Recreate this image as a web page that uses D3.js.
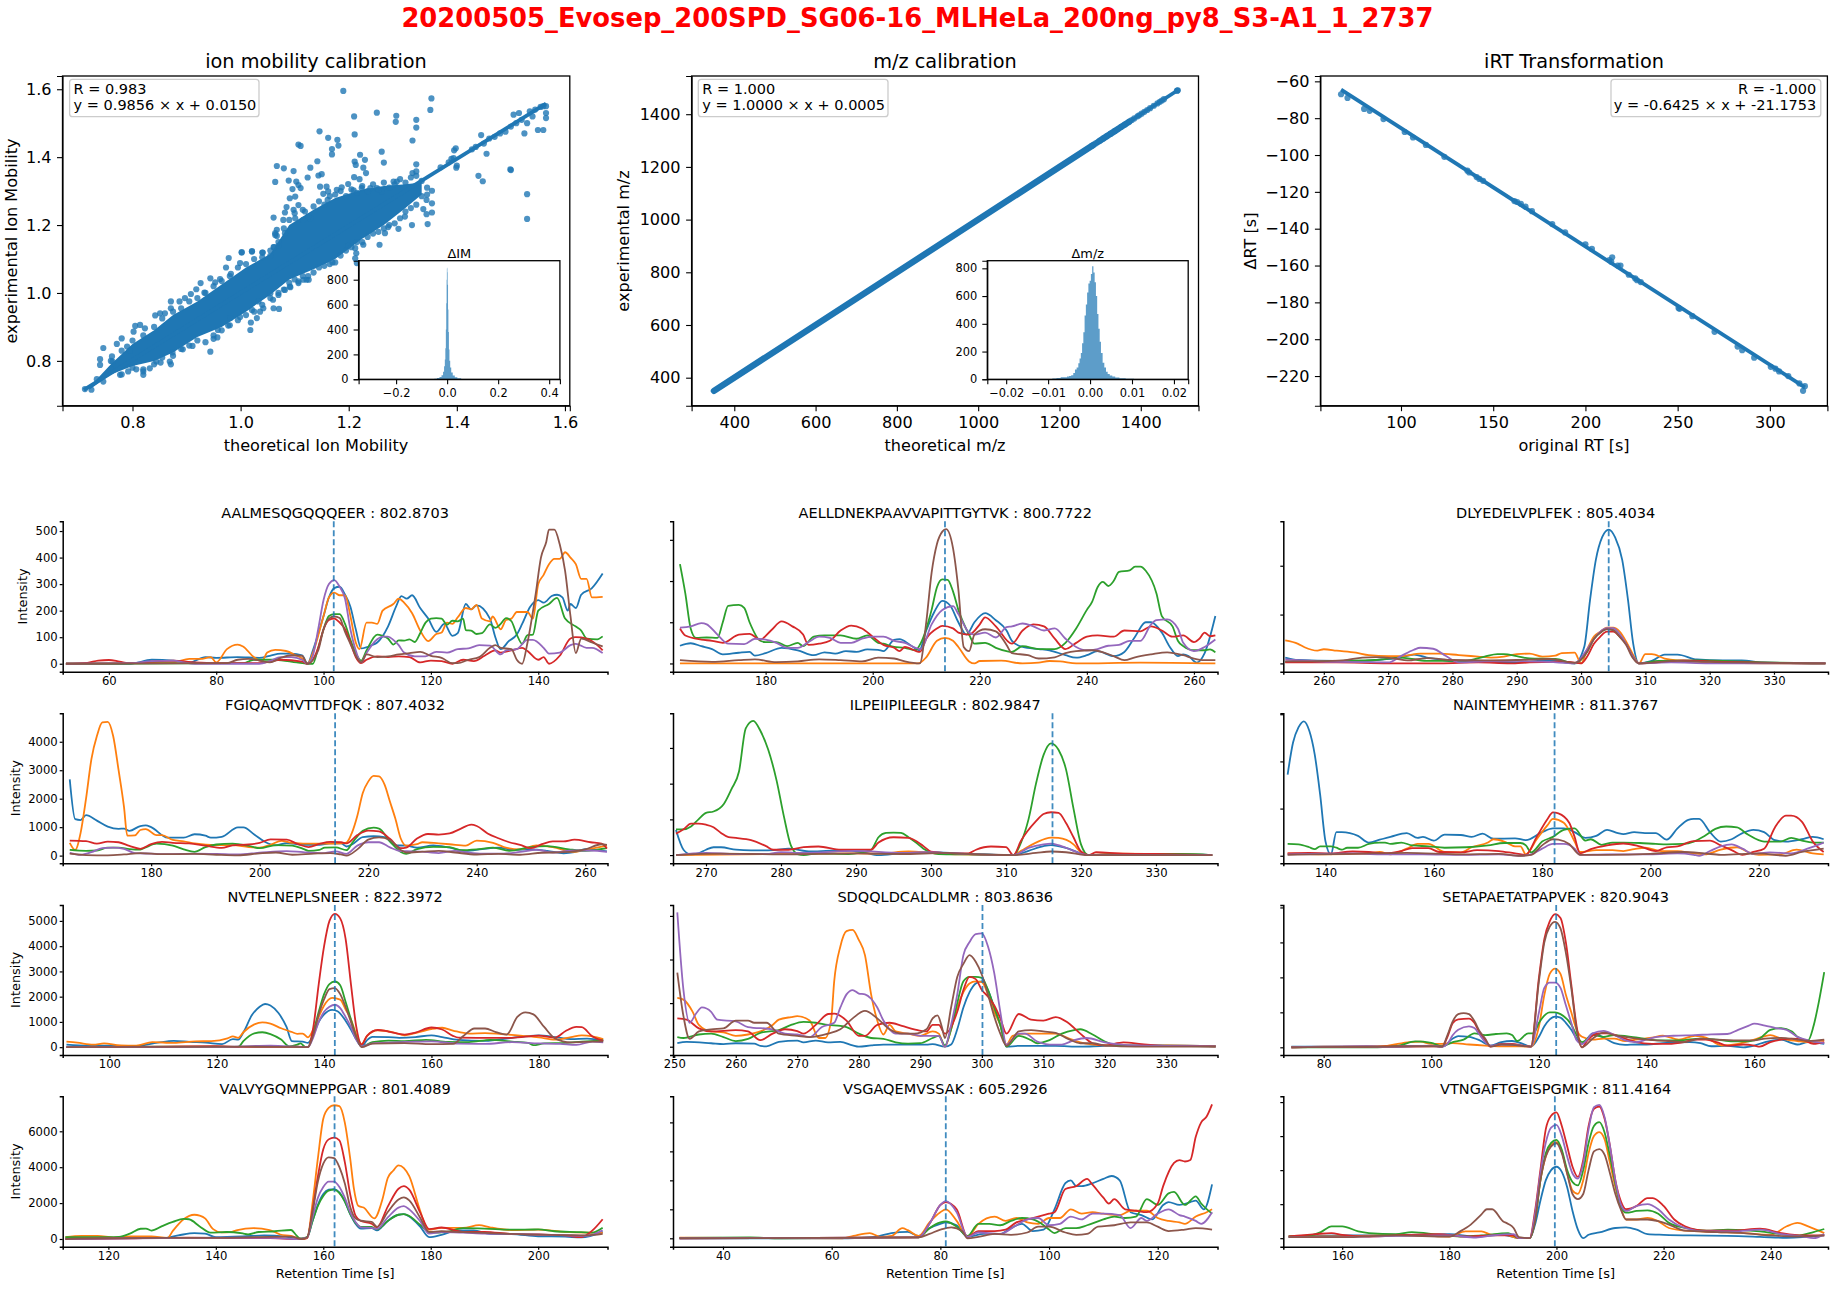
<!DOCTYPE html>
<html>
<head>
<meta charset="utf-8">
<title>Calibration overview</title>
<script src="https://cdn.jsdelivr.net/npm/d3@7"></script>
<style>
html,body{margin:0;background:#fff}
svg{display:block}
text{font-family:"DejaVu Sans",sans-serif;fill:#000}
</style>
</head>
<body>
<svg id="fig" width="1830" height="1290"></svg>
<script>
// ---- run identification -------------------------------------------------
const runName = "20200505_Evosep_200SPD_SG06-16_MLHeLa_200ng_py8_S3-A1_1_2737";
const palette = ["#1f77b4","#ff7f0e","#2ca02c","#d62728","#9467bd","#8c564b"];

// ---- ion mobility calibration: flat x,y lists ---------------------------
const imFit = [0.71, 1.565];
const imCoreX = [0.72,0.76,0.80,0.84,0.875,0.92,0.965,1.01,1.055,1.09,1.135,1.175,1.225,1.265,1.305,1.335];
const imCoreLow = [0.715,0.76,0.785,0.80,0.825,0.87,0.90,0.945,0.995,1.04,1.07,1.10,1.16,1.20,1.25,1.29];
const imCoreHigh = [0.722,0.79,0.85,0.89,0.935,0.975,1.025,1.075,1.115,1.20,1.245,1.28,1.305,1.315,1.32,1.325];
const imCloud = [
 .712,.717,.724,.715,.734,.746,.746,.739,.746,.838,.740,.805,.740,.788,.771,.850,.780,.866,.762,.813,.763,.798,.777,.759,.790,.842,.795,.830,.805,.903,.814,.906,.802,.886,.823,.896,
 .842,.934,.851,.940,.871,.975,.871,.955,.860,.940,.887,.975,.897,.985,.908,.997,.918,1.011,.926,1.029,.933,1.001,.944,1.043,.953,1.031,.962,1.041,.973,1.075,.978,1.103,.982,1.056,
 1.002,1.119,1.021,1.123,1.041,1.119,.999,1.088,1.055,1.109,1.062,1.135,1.070,1.139,1.064,1.176,1.067,1.168,
 .944,.827,.911,.844,.893,.834,.874,.825,.869,.798,.871,.790,.852,.795,.844,.798,.832,.778,.820,.769,.820,.759,.807,.775,.792,.769,.950,.865,.957,.869,.958,.891,.977,.904,
 1.018,.891,1.019,.913,1.030,.926,1.036,.945,1.042,.955,1.060,.980,1.061,.955,1.071,.953,1.082,1.009,1.092,1.017,1.107,1.034,1.116,1.039,1.126,1.039,1.070,.994,1.055,.999,1.033,.975,1.021,.950,.999,.929,.981,.926,
 1.146,1.476,1.162,1.457,1.179,1.451,1.181,1.434,1.169,1.424,1.169,1.408,1.211,1.467,1.107,1.437,1.111,1.433,1.261,1.416,1.221,1.407,1.230,1.392,1.211,1.387,1.213,1.377,1.142,1.388,
 1.067,1.374,1.080,1.367,1.098,1.359,1.129,1.369,1.124,1.340,1.144,1.346,1.150,1.350,1.064,1.327,1.089,1.331,1.103,1.328,1.107,1.318,1.096,1.306,1.111,1.309,1.147,1.313,1.159,1.313,1.162,1.299,1.153,1.292,1.161,1.274,
 1.199,1.321,1.210,1.341,1.220,1.335,1.232,1.353,1.227,1.369,1.265,1.384,1.318,1.449,1.325,1.379,1.318,1.353,1.325,1.358,1.283,1.328,1.289,1.328,1.178,1.304,1.187,1.311,1.209,1.302,1.224,1.309,1.240,1.309,1.252,1.309,1.261,1.299,
 1.091,1.279,1.101,1.284,1.107,1.259,1.119,1.240,1.085,1.253,1.082,1.237,1.079,1.215,1.061,1.222,1.098,1.245,1.101,1.220,1.129,1.220,1.116,1.215,1.067,1.186,1.064,1.171,1.082,1.176,1.061,1.135,1.002,1.120,1.021,1.122,1.040,1.119,
 1.354,1.301,1.354,1.264,1.344,1.274,1.338,1.247,1.354,1.237,1.344,1.232,1.346,1.203,1.317,1.200,1.292,1.189,1.304,1.225,1.273,1.194,1.267,1.176,1.257,1.142,1.227,1.142,1.212,1.132,1.214,1.117,1.212,1.102,1.215,1.088,1.199,1.139,1.170,1.090,1.122,1.039,1.107,1.029,1.091,1.019,
 .76,.80,.76,.775,.78,.83,.78,.76,.80,.86,.80,.78,.82,.875,.82,.775,.84,.90,.84,.79,.855,.925,.855,.81,.875,.945,.875,.815,.89,.955,.89,.835,.905,.975,.905,.845,.92,.985,.92,.86,.935,1.0,.935,.855,.95,1.02,.95,.875,.965,1.035,.965,.89,.98,1.05,.98,.905,.995,1.075,.995,.92,
 1.01,1.085,1.01,.935,1.025,1.10,1.025,.945,1.04,1.105,1.04,.965,1.055,1.125,1.055,.985,1.07,1.15,1.07,1.0,1.08,1.19,1.08,1.01,1.09,1.215,1.09,1.03,1.10,1.235,1.10,1.04,1.115,1.245,1.115,1.05,1.125,1.225,1.125,1.05,1.135,1.255,1.135,1.06,1.145,1.27,1.145,1.075,1.155,1.26,1.155,1.08,
 1.165,1.285,1.165,1.085,1.175,1.29,1.175,1.09,1.185,1.30,1.185,1.11,1.195,1.285,1.195,1.125,1.205,1.305,1.205,1.135,1.215,1.295,1.215,1.15,1.225,1.315,1.225,1.15,1.235,1.30,1.235,1.165,1.245,1.32,1.245,1.175,1.255,1.305,1.255,1.18,1.265,1.325,1.265,1.19,1.275,1.31,1.275,1.20,
 1.285,1.32,1.285,1.205,1.295,1.335,1.295,1.22,1.305,1.325,1.305,1.24,1.315,1.34,1.315,1.25,1.325,1.345,1.325,1.26,1.335,1.33,1.335,1.285,1.345,1.31,1.345,1.29,
 1.19,1.595,1.21,1.52,1.252,1.531,1.287,1.504,1.288,1.522,1.325,1.487,1.325,1.51,1.351,1.539,1.353,1.573,
 1.37,1.37,1.385,1.385,1.39,1.395,1.394,1.397,1.398,1.426,1.399,1.369,1.40,1.375,1.395,1.42,1.428,1.423,1.435,1.43,1.44,1.345,1.448,1.329,1.445,1.465,1.45,1.44,1.455,1.41,1.46,1.455,1.47,1.46,1.48,1.47,
 1.49,1.475,1.499,1.364,1.50,1.362,1.50,1.49,1.505,1.525,1.51,1.50,1.515,1.53,1.52,1.51,1.525,1.47,1.53,1.291,1.53,1.218,1.53,1.50,1.535,1.535,1.54,1.52,1.545,1.54,1.55,1.48,1.555,1.548,1.56,1.55,1.565,1.55,1.565,1.53,1.565,1.515,1.56,1.48];
const imDelta = [-0.075,-0.05,-0.04,-0.03,-0.022,-0.016,-0.012,-0.009,-0.007,-0.005,-0.0035,-0.002,-0.001,0,0.001,0.002,0.0035,0.005,0.007,0.009,0.012,0.016,0.022,0.03,0.04,0.055,0.08];
const imCount = [0,5,10,18,32,60,105,160,250,400,610,800,890,895,860,760,560,380,240,150,95,55,30,16,8,3,0];

// ---- m/z calibration ----------------------------------------------------
const mzFit = [350, 1490];
const mzDenseRuns = [[350,1285],[1295,1320],[1325,1345],[1350,1372]];
const mzTail = [1280,1290,1300,1308,1316,1325,1336,1352,1361,1372,1378,1384,1392,1396,1402,1409,1416,1423,1432,1441,1447,1452,1457,1489,1490,1491];
const mzDelta = [-0.011,-0.009,-0.008,-0.007,-0.0062,-0.0055,-0.005,-0.0045,-0.004,-0.0036,-0.0032,-0.0028,-0.0025,-0.0022,-0.0019,-0.0016,-0.0013,-0.001,-0.0007,-0.0004,-0.0001,0.0002,0.0005,0.0008,0.0011,0.0014,0.0017,0.002,0.0023,0.0026,0.003,0.0034,0.0038,0.0042,0.0047,0.0053,0.006,0.007,0.0085,0.0105];
const mzCount = [0,6,9,14,14,20,24,30,45,70,85,115,150,190,260,340,460,540,625,690,710,760,815,770,700,600,470,365,270,190,120,85,55,38,28,20,13,8,4,0];

// ---- iRT transformation -------------------------------------------------
const irtFit = [67.5, 319];
const irtX = [67.5,71,80,83,90.5,102,106.5,113.5,123.5,136,137,141,142.5,144.5,161.5,163,165,167.5,171,182,189,200,203.5,213,214.5,214,217.5,219,223.5,227,228,230,250.5,251,258,270,282.5,285,291.5,300.5,303,305,310,316,319,318];
const irtY = [-67,-69,-75,-76,-80.5,-87.5,-90.5,-94.5,-101,-108.5,-109.5,-112,-113,-114,-125,-125.5,-126.5,-128,-130.5,-137.5,-142,-148.5,-151,-157,-155.5,-158,-160,-160,-165,-167,-168,-169,-183,-183.5,-187.5,-196,-204,-206,-210,-215,-216,-217.5,-220,-224,-225.5,-228];

// ---- extracted ion chromatograms: flat time,intensity lists -------------
const aalmBlue=[52,0,64,0,68,15,72,12,75,5,78,25,80,22,84,25,88,22,90,30,92,38,94,38,96,32,97,0,98,50,100,180,101,250,102,285,103,290,104,260,105,215,106,130,107,58,109,70,110,80,112,140,113.5,215,114.5,255,115.5,245,116.5,258,118,210,119.5,170,121,120,122.5,150,124,105,125,115,126.5,225,127.5,205,128.5,220,131,170,132,100,133,55,134.5,85,136,110,137,150,138.5,215,140,240,141,230,142.5,255,143.5,260,144.5,250,145.5,200,146,225,147,210,148,260,150,285,152,340];
const aalmOrange=[52,0,72,5,75,18,77,18,79,25,80,5,82,55,84,72,85,65,87,25,88.5,10,89.5,42,91,52,93,48,95,30,96,20,97,0,98,40,100,180,101,250,102,268,103,258,104,258,105,180,106,80,106.7,55,108,155,109,155,110,150,111,200,113,225,114,245,115,230,116.5,190,118,125,119.5,85,121,112,122,118,123,155,124,150,125,175,126.5,210,127.5,205,128.5,222,129.5,170,131,160,131.5,178,133,130,134,165,135,170,136,195,138,195,139,170,140,300,141,335,142,375,143,395,144,395,145,420,146,400,147,375,148,320,149,320,150,250,152,252];
const aalmGreen=[52,0,85,2,87,15,89,15,91,15,95,5,97,0,98,0,99,60,100,130,101,180,102,187,103,187,104,150,105,90,106,40,107,12,108,50,110,110,111,105,112,95,113,72,114,88,115,87,116,92,117,82,118,115,119,155,120,170,121,172,122,170,123,147,124,162,125,160,126,170,126.5,127,127.5,125,128.5,112,129.5,115,131,148,132,135,133,150,134,172,135,160,136,110,137,75,138,108,139,110,140,200,142,225,143.5,248,145,170,147,140,148,125,149,95,151,92,152,103];
const aalmRed=[52,0,56,3,58,12,60,14,62,8,64,2,68,8,72,12,76,5,80,2,88,2,90,8,92,15,96,8,97,0,99,60,100,130,101,165,102,170,103,155,104,130,105,80,106,25,107,2,108,15,110,28,112,25,114,28,116,25,118,5,120,12,122,10,124,0,126,15,128,10,130,30,132,50,133,42,135,50,137,60,138,48,140,15,141,25,142,0,144,30,146,95,147,100,149,95,151,70,152,50];
const aalmPurple=[52,0,64,2,68,10,72,12,74,5,76,0,88,0,90,10,92,25,94,25,96,15,97,0,98,30,99,130,100,240,101,300,102,315,103,290,104,245,105,130,106,50,107,5,108,40,110,92,111,102,112,102,113,90,114,70,115,42,117,28,119,28,121,45,123,42,125,55,127,58,129,70,131,68,133,35,134,50,136,55,138,90,139,90,141,60,142,38,144,42,146,70,147,75,149,60,150,60,152,40];
const aalmBrown=[52,0,82,2,84,15,86,18,88,12,90,5,92,22,94,32,96,30,97,0,99,50,100,130,101,170,102,178,103,172,104,120,105,75,106,30,107,5,108,35,110,25,112,28,114,35,116,40,118,45,120,30,122,22,124,2,125,2,127,15,129,25,131,60,132,70,133,60,135,55,136,15,137,0,138,80,139.5,260,140.5,400,141.5,460,142,505,143,505,144,450,145,350,146,180,147,40,148,95,150,80,152,65];

const aellBlue=[164,43,166,49,168,42,170,35,172,22,175,26,177,28,178,19,180,25,183,38,186,32,189,20,191,27,193,24,195,30,197,28,199,34,201,33,202,30,204,57,205,59,207,45,208.7,32,210,80,211.5,125,213,152,214.5,140,216,100,217.5,70,219,100,221,122,223,105,225,80,226,55,228,40,231,35,233,32,236,20,238,14,240,20,242,30,245,18,247,28,249,65,251,100,252,100,254,75,255.5,40,257,18,258,22,259,18,260.5,2,262,25,264,115];
const aellOrange=[164,0,208.5,0,210,15,212,55,213.5,62,215,55,216,40,218,5,219,0,220,6,224,7,228,0,231,2,233,6,235,5,238,0,250,2,264,0];
const aellGreen=[164,241,165,170,166,85,167,62,169,63,171,62,172,100,173,140,175,142,176,135,177,100,179,55,180,52,182,52,184,42,186,50,187,42,189,65,191,68,194,68,197,60,199,68,201,50,202,48,204,40,206,38,208,32,209,50,211,130,212,185,213,204,214,203,215,175,216,130,218,70,219,48,221,50,223,38,225,30,226,28,228,42,231,35,234,35,236,50,238,85,240,130,241,150,242,185,243,198,244,188,245,200,246,222,248,226,249,235,250,235,251,225,253,170,254,115,256,90,257,55,258,42,260,32,262,32,263,34,264,27];
const aellRed=[164,85,165,68,168,58,170,55,172,50,175,70,177,72,179,58,181,80,183,102,185,90,187,70,188,45,190,48,192,55,194,80,196,92,198,85,200,65,202,45,204,38,205,30,206,40,208.8,28,210,60,212,85,213,91,215,85,216,75,218,70,220,95,221,112,223,90,226,48,228,80,230,95,232,90,234,60,236,35,238,50,240,65,242,68,245,65,247,80,250,78,252,90,254,80,256,65,258,68,260,52,261,60,262,75,263,66,264,68];
const aellPurple=[164,87,166,90,168,98,169,95,171,70,173,48,176,47,178,60,180,58,182,50,184,38,186,38,188,52,190,65,192,62,194,50,196,50,198,60,200,65,202,65,204,55,206,50,208,38,209,35,211,95,213,130,215,139,216,120,218,75,219,70,221,75,223,63,225,88,226,90,228,97,230,90,232,80,234,85,236,60,238,40,240,32,242,35,244,43,246,45,248,55,250,55,252,95,253,105,255,107,257,85,258,50,260,30,262,40,264,58];
const aellBrown=[164,8,170,4,175,8,178,10,182,3,186,5,190,10,194,8,198,5,201,14,204,12,206,5,208.8,0,210,100,211,220,212,290,213,320,213.7,326,215,280,216,180,217,40,218,30,219,70,221,83,223,78,225,45,226,25,229,20,231,12,234,15,236,25,238,30,241,32,245,18,247,8,249,15,252,22,255,27,258,20,260,12,262,8,264,8];

const dlyeBlue=[254,12,256,7,262,5,266,5,269,8,272,12,274,18,276,12,278,8,280,4,285,3,290,2,295,6,299,0,300.5,34,301.4,130,302.3,212,303.3,259,304.3,274,305.3,258,306.4,212,307.3,130,308.1,41,309,0,311,5,313,18,315,18,318,8,322,6,325,6,328,2,338,0];
const dlyeOrange=[254,47,256,40,257,33,259,26,260,29,262,26,265,22,267,17,270,15,272,15,275,20,278,20,281,17,284,14,286,12,288,14,290,19,292,20,294,14,296,16,297,21,299,22,300,0,301,30,302,55,303,65,304,73,305,73,306,65,307,45,308,20,309,0,310,19,311,19,313,10,315,6,320,3,328,0,338,0];
const dlyeGreen=[254,3,262,5,268,7,272,12,276,5,279,5,282,5,285,14,287,19,288,19,290,15,292,10,296,9,299,0,301,25,302,50,303,63,304,70,305,68,306,55,307,40,308,15,309,0,312,5,318,6,328,2,338,0];
const dlyeRed=[254,2,262,2,270,0,278,0,284,2,289,0,292,2,296,3,298,3,300,0,301,15,302,40,303,55,304,65,305,65,306,55,307,40,308,15,309,0,313,3,316,6,320,4,338,0];
const dlyePurple=[254,8,262,3,270,2,272,15,274,28,275,32,277,30,279,15,281,2,285,4,290,5,295,3,299,0,301,30,302,50,303,65,304,72,305,72,306,60,307,40,308,15,309,0,314,2,320,0,338,0];
const dlyeBrown=[254,4,258,4,263,6,266,12,268,13,271,10,273,6,276,11,280,7,285,6,290,7,295,9,299,1,301,25,302,50,303,63,304,70,305,68,306,55,307,38,308,12,309,0,315,5,320,3,338,0];

const fgiqBlue=[165,2680,166,1280,167,1250,168,1420,170,1230,172,1020,174,940,175,950,176,870,178,1040,179,1060,180,1000,183,630,186,630,188,750,190,700,191,630,193,660,196,990,197,990,199,740,201,480,203,360,205,440,208,380,211,380,213,430,215,430,216,320,217,390,219,650,221,680,223,650,225,360,227,350,229,280,232,360,235,280,238,170,241,230,244,280,247,200,250,220,253,170,256,80,258,120,260,230,264,150];
const fgiqOrange=[165,450,166,200,167,800,168,2000,169,3400,170,4200,171,4680,172,4700,173,4200,174,3000,175,1700,175.6,700,177,710,178,900,179,930,181,720,182,720,184,550,186,500,188,430,192,370,195,370,198,300,200,280,202,380,204,520,206,450,210,420,213,420,215,430,216,460,217,800,218,1400,219,2200,220,2600,221,2800,222,2780,223,2500,224,1900,225,1300,226,600,227,350,229,400,230,470,233,430,235,400,238,350,240,530,243,450,245,300,248,220,251,360,254,300,258,130,260,200,264,350];
const fgiqGreen=[165,200,168,170,170,180,172,280,174,280,176,230,178,210,179,290,181,420,184,350,186,220,188,130,190,300,192,390,195,420,198,340,200,260,203,370,206,350,208,240,209,170,211,200,212,280,214,290,216,190,217,430,219,870,221,980,222,950,224,500,226,130,227,60,229,230,232,310,235,300,237,190,240,220,243,280,246,170,250,300,253,330,257,220,260,170,264,260];
const fgiqRed=[165,530,168,510,170,420,172,490,174,470,176,340,178,240,180,400,182,480,184,450,187,430,190,350,193,270,195,360,198,390,200,450,202,570,205,560,207,410,209,300,211,410,213,480,215,470,216,430,218,720,220,880,222,850,224,590,226,260,227,280,229,600,231,760,233,740,235,780,237,940,239,1090,240,1040,242,780,244,610,246,470,248,380,250,260,252,400,254,500,256,500,258,560,261,470,263,420,264,250];
const fgiqPurple=[165,100,167,30,169,120,171,260,173,280,175,240,177,90,180,70,183,50,188,70,192,60,196,40,200,100,205,160,208,120,212,90,214,150,216,60,218,350,220,470,222,470,224,290,226,160,228,150,231,120,233,90,236,170,238,120,241,70,245,70,248,130,251,200,254,110,258,180,261,180,264,130];
const fgiqBrown=[165,70,168,20,172,10,175,40,178,90,182,50,188,60,192,30,196,10,200,80,203,110,206,30,210,70,213,90,215,40,216,0,218,220,220,560,222,640,224,550,226,200,227,110,230,140,233,170,236,110,240,40,244,60,248,30,252,100,256,120,260,220,263,400,264,380];

const ilpeBlue=[266,70,267,15,268,2,269,5,270,15,271,22,272,22,274,15,276,13,279,14,281,18,284,10,288,14,291,8,293,0,296,5,300,8,304,4,311,0,313,12,315,25,316,28,318,20,320,5,321,0,325,3,330,3,337.5,0];
const ilpeOrange=[266,0,280,3,290,5,293,4,297,10,299,8,301,4,304,2,311,0,312,12,314,35,316,49,317,48,319,30,320,8,321,0,325,4,337.5,0];
const ilpeGreen=[266,72,267,72,268,80,269,100,270,118,271,122,272.4,144,273.4,185,274.4,234,275.3,355,276.3,376,277.3,346,278.3,295,279.4,210,280.4,107,281.3,28,282.3,2,283,0,285,5,289,3,292,15,293,50,294,62,295,63,296,62,297,50,298,35,299,18,301,3,305,2,311,0,312,35,313,100,314,200,315,280,316,313,317,295,318,240,319,130,320,30,321,0,325,3,333,3,337.5,0];
const ilpeRed=[266,60,267,72,268,88,269,88,270,85,271,78,272,62,273,50,274,48,276,42,278,25,279,15,281,15,283,22,285,24,288,15,290,15,292,15,293,35,295,50,297,48,299,25,300,10,303,5,305,5,306,15,308,24,310,22,311,0,312,40,314,95,315,115,316,120,317,118,318,90,319,50,320,10,321,0,322,8,325,5,330,3,337.5,0];
const ilpePurple=[266,0,270,6,274,3,278,3,280,8,283,6,290,12,296,6,299,8,302,6,306,2,311,0,313,20,315,30,316,32,317,28,319,12,321,0,337.5,0];
const ilpeBrown=[266,0,272,4,280,2,290,5,296,3,302,6,305,3,311,0,314,6,316,10,318,8,321,0,337.5,0];

const nainBlue=[133,172,134,240,135,272,136,285,137,265,138,215,139,130,140,30,141,3,142,50,143,50,146,42,148,28,150,34,152,40,155,48,157,38,158,40,160,32,162,45,165,44,167,40,169,47,171,36,175,37,177,33,180,50,182,58,184,58,186,50,188,38,190,42,192,55,194,48,195,46,197,50,199,48,201,48,203,34,205,58,207,76,208,78,209,78,211,50,213,30,215,35,217,48,219,55,221,50,223,33,225,30,228,35,230,40,232,35];
const nainOrange=[133,5,140,3,148,5,150,8,152,3,155,15,157,25,159,25,162,8,165,7,167,18,170,28,171,35,173,30,175,20,176,20,177,3,179,35,181,65,182,78,184,70,186,30,187,8,190,12,193,12,195,10,197,14,199,17,202,10,205,10,208,5,210,3,213,13,216,18,218,8,220,2,224,3,227,13,230,5,232,3];
const nainGreen=[133,25,135,24,137,18,138,14,139,20,141,20,142,17,143,13,144,17,146,17,148,25,150,28,151,28,152,25,154,28,156,22,159,20,162,17,166,18,170,22,173,27,176,27,177,22,178,7,180,30,182,40,184,55,186,58,188,32,189,35,191,23,193,28,195,28,198,27,201,25,203,24,206,25,208,30,210,42,212,57,214,62,216,60,218,45,221,30,224,30,226,38,228,32,230,28,232,28];
const nainRed=[133,5,137,6,141,5,145,9,148,8,151,5,154,10,156,16,159,16,161,8,165,7,168,12,172,10,175,5,177,2,179,40,181,78,182,92,183,90,185,70,186,40,187,5,189,14,192,22,195,26,198,20,201,10,203,18,205,20,208,31,211,32,213,22,215,12,217,2,219,8,221,15,223,60,225,85,226,85,228,72,230,30,232,8];
const nainPurple=[133,3,145,5,150,3,158,3,165,2,172,3,176,0,178,3,180,15,182,25,184,25,186,15,187,2,192,3,200,3,205,5,208,2,209,0,211,10,213,20,215,24,217,15,219,4,222,7,226,5,229,15,232,28];
const nainBrown=[133,2,145,4,155,6,165,3,172,4,176,0,178,2,180,22,182,35,183,34,185,25,187,2,192,2,200,4,206,8,210,5,213,2,220,5,225,0,228,8,232,15];

const nvteBlue=[92,100,96,60,100,60,105,50,109,180,112,250,115,210,118,180,121,120,123,320,124,300,125,600,126.5,1250,128,1600,129,1710,130,1650,131.5,1350,133,800,134,240,136,220,137,170,138,500,139,1000,140,1300,141.5,1480,142.5,1420,144,1050,145,700,146,300,147,30,148,280,149,410,152,400,154,370,157,400,160,470,162,400,165,290,170,250,175,370,180,470,183,400,186,320,189,340,192,280];
const nvteOrange=[92,220,94,180,97,100,99,150,102,70,105,60,108,200,112,170,116,230,119,240,122,350,123,430,124,370,125,600,127,900,128.5,980,130,930,132,750,134,600,135,530,136,540,137,390,138,700,139,1200,140,1650,141.5,1950,143,1880,144,1500,145,1100,146,500,147,120,148,450,150,670,153,580,155,470,157,560,160,720,162,770,164,660,167,540,170,560,173,520,177,450,180,390,183,300,186,400,188,470,190,430,192,320];
const nvteGreen=[92,0,110,20,120,20,124,10,125,250,127,550,128.5,590,130,520,132,300,133.5,30,135,100,135.6,150,136.5,10,137,10,138,600,139,1400,140,2100,141,2500,142,2600,143,2450,144,1800,145,1100,146,400,147,20,149,200,152,260,155,240,159,290,163,210,167,200,171,290,175,220,178,170,179,80,181,150,185,170,188,220,192,270];
const nvteRed=[92,0,110,20,120,40,125,10,130,10,135,20,137,5,138,800,139,2500,140,4000,141,5000,142,5280,143,5100,144,4300,145,2500,146,800,147,100,148,450,150,680,152,620,155,500,157,580,160,780,162,700,164,450,165,380,170,370,175,370,180,460,183,380,185,640,187,800,188,790,190,420,192,250];
const nvtePurple=[92,0,120,10,130,60,137,5,138,400,139,1000,140,1400,141,1600,142,1680,143,1550,144,1200,145,800,146,300,147,30,149,150,153,190,157,220,160,230,165,140,170,130,175,200,180,150,184,130,187,90,190,220,192,190];
const nvteBrown=[92,0,115,10,125,20,137,5,138,500,139,1300,140,1900,141,2300,142,2340,143,2100,144,1600,145,1000,146,400,147,0,149,140,155,160,160,120,164,130,166,450,168,740,170,740,172,600,174,500,176,1200,177.5,1380,179,1300,181,800,183,350,186,190,190,220,192,230];

const sdqqBlue=[250.5,8,252,11,256,8,258,6,260,8,263,7,264,2,265,1,267,11,270,14,271,10,273,14,275,10,277,11,279,3,280,0,282,3,284,5,288,5,291,5,292,6,294,0,295,5,296,40,297,90,298,125,299,145,300,150,301,130,302,90,303,50,304,0,306,2,312,2,316,0,320,2,330,3,338,1];
const sdqqOrange=[250.5,112,251.5,108,253,80,254,50,256,35,258,33,260,25,262,28,264,35,266,50,267,62,269,68,270,70,272,60,273.5,20,274.5,20,275.5,60,276,150,277,230,278,265,279,268,280,245,281,210,282,120,283,60,284,28,285,50,286,35,288,30,290,25,292,35,293,30,294,0,295,40,296,90,297,125,298,145,299,150,300,148,301,120,302,80,303,50,304,5,305,25,307,30,310,30,312,30,314,20,316,10,320,3,325,2,330,3,338,1];
const sdqqGreen=[250.5,22,251.5,20,254,28,256,30,258,22,260,13,262,18,264,32,267,38,269,50,271,57,273,55,275,50,277,48,278,45,280,30,282,20,284,18,286,10,288,7,290,8,292,20,293,25,294,3,295,40,296,100,297,150,298,160,299,160,300,158,301,130,302,90,303,50,304,0,306,25,308,15,309,8,311,15,313,30,315,38,316,40,318,28,320,12,322,3,330,2,338,1];
const sdqqRed=[250.5,65,252,62,254,42,256,35,260,38,262,35,264,15,266,30,268,40,270,36,271,30,273,50,275,75,276,76,278,60,280,25,281,25,283,50,285,55,287,48,289,40,291,35,292,50,293,50,294,30,296,80,297,130,298,160,299,155,300,130,301,115,302,95,303,65,304,30,306,75,308,62,310,60,312,68,314,55,316,30,318,8,320,3,323,10,326,6,330,2,338,1];
const sdqqPurple=[250.5,308,251.5,130,252.5,55,253.5,75,254.5,90,256,80,257,62,260,58,262,45,266,40,268,30,270,28,272,22,274,45,276,55,277,90,278,120,279,130,280,122,281,120,282,110,283,90,284,60,285,40,286,30,288,30,290,25,292,25,293,25,294,0,295,50,296,120,297,210,298,240,299,258,300,260,301,230,302,170,303,80,304,5,306,30,307,30,309,12,311,5,313,5,315,15,317,20,320,10,325,3,330,2,338,1];
const sdqqBrown=[250.5,170,251.5,70,252.5,18,254,35,256,40,258,42,260,60,262,60,263,55,265,55,267,30,270,25,272,22,275,30,277,40,279,65,281,82,283,65,285,40,287,30,289,30,291,40,292,65,292.8,72,293.5,45,294,20,295,90,296,160,297,190,298,210,299,195,300,165,301,120,302,70,303,30,304,2,306,35,308,38,310,35,312,32,314,18,316,8,318,8,320,3,325,0,338,0];

const setaBlue=[74,2,90,2,100,4,102,2,104,25,105,32,107,30,109,20,111,5,113,15,115,18,117,10,118.5,2,120,30,121,60,122,80,123,88,124,85,125,70,126,50,127,25,128,10,130,40,132,28,134,12,136,7,138,8,140,8,143,12,148,15,150,12,152,3,155,4,158,0,160,5,162,15,165,22,167,12,168,8,170,15,173,10];
const setaOrange=[74,0,80,2,90,2,92,5,96,15,98,16,100,10,102,10,104,12,107,8,110,5,113,3,115,3,118.5,2,120,60,121,150,122,210,123,225,124,210,125,150,126,100,127,50,128,30,130,22,132,25,134,25,136,18,138,22,141,28,143,33,146,22,149,33,151,28,154,5,157,10,160,22,163,35,165,25,168,18,170,15,173,20];
const setaGreen=[74,0,90,0,94,5,97,17,100,13,102,3,104,15,106,22,108,40,110,35,112,38,114,40,115,35,116,18,118,40,119,40,120,70,122,100,123,100,124,95,126,65,127,35,128,15,130,35,132,30,134,35,138,28,142,20,146,20,150,25,153,22,156,17,159,17,161,25,163,50,165,55,167,45,168,30,170,20,171,60,172,130,173,215];
const setaRed=[74,0,100,3,102,2,103,30,104,70,105,80,107,82,108,70,109,40,110,20,111,2,113,10,115,10,117,5,118.5,2,120,200,121,310,122,360,123,381,124,370,125,300,126,180,127,60,128,0,129,20,131,40,133,40,135,30,138,15,141,10,144,10,147,15,149,22,151,22,153,15,155,5,158,8,160,5,161,2,163,15,165,22,167,25,169,22,171,10,173,15];
const setaPurple=[74,0,88,3,92,1,100,5,102,2,103,10,104,35,105,50,107,60,108,55,109,35,110,15,111,5,113,8,117,5,118.5,2,120,100,121,170,122,185,123,185,124,170,125,120,126,70,127,20,128,10,130,40,132,47,134,35,136,20,138,15,140,22,142,30,145,33,149,35,152,37,155,38,157,50,159,62,160,68,162,62,164,55,166,50,168,30,170,20,173,12];
const setaBrown=[74,0,100,3,102,2,103,35,104,75,105,95,106,98,107,95,108,75,109,45,110,25,111,2,113,8,115,7,118.5,2,120,190,121,300,122,345,123,359,124,340,125,270,126,170,127,50,128,0,130,25,132,42,134,35,136,30,140,22,144,18,147,15,150,25,153,22,157,20,160,20,162,25,165,27,168,22,170,18,173,22];

const valvBlue=[112,30,120,50,130,50,133,200,136,330,138,300,140,100,145,140,149,200,153,130,156,0,157,100,158,1000,159,1900,160,2500,161,2750,162,2780,163,2600,164,2100,165,1400,166,850,167,580,169,600,170,480,171,700,172,1000,174,1350,175,1380,176,1250,178,700,179.7,100,182,230,185,480,188,480,191,280,195,270,200,150,205,130,208,90,212,400];
const valvOrange=[112,100,115,170,118,170,121,80,124,150,128,150,131,60,132,450,134,1100,136,1350,137,1300,138,1150,139.5,550,141,370,143,400,144,500,147,600,150,500,152,250,154,170,156,0,157,50,158,2000,159,4500,160,6700,161,7300,162,7450,163,7400,164,6500,165,4500,165.7,2800,166.5,1850,167.5,1750,169.5,1150,171,2200,172,3400,173,3800,174,4100,175,3950,176,3500,178,1600,179.5,520,182,620,186,620,189,770,191,650,195,500,200,520,205,400,209,350,212,340];
const valvGreen=[112,100,120,100,122,120,124,300,126,570,127,580,128,470,130,720,132,950,134,1120,135,1100,137,700,139,350,142,390,145,310,146,260,148,390,151,430,154,500,155,200,155.7,30,157,100,158,1000,159,1850,160,2400,161,2700,162,2750,163,2550,164,2100,165,1400,166,900,167,680,169,680,170,530,172,1000,174,1350,175,1380,176,1280,178,800,180,350,183,400,186,600,190,580,195,520,200,530,203,430,208,380,210,350,212,620];
const valvRed=[112,0,125,40,135,80,145,50,150,50,155,0,157,50,158,1600,159,3500,160,5000,161,5550,162,5650,163,5500,164,4300,165,2500,166,1300,167,1000,169,850,170,650,172,1800,174,2800,175,2950,176,2750,178,1500,179.7,550,182,640,186,400,190,400,195,280,200,250,205,200,208,100,210,450,212,1100];
const valvPurple=[112,0,130,50,140,70,150,70,155,0,157,80,158,1200,159,2300,160,2900,161,3200,162,3200,163,2900,164,2300,165,1500,166,950,167,650,169,620,170,560,172,1200,174,1750,175,1830,176,1650,178,1000,179.7,300,182,380,186,350,190,300,195,280,205,200,209,180,212,480];
const valvBrown=[112,0,130,60,140,60,150,120,154,130,156,0,157,100,158,1500,159,3200,160,4200,161,4550,162,4500,163,4000,164,3100,165,1800,166,1150,167,1020,169,950,170,680,172,1500,174,2200,175,2320,176,2150,178,1200,179.7,400,182,430,186,380,190,340,195,280,205,220,209,200,212,280];

const vsgaBlue=[32,0,63,0,68,5,71,18,74,22,76,8,78,35,80,50,81,55,83,45,85,5,88,15,91,15,93,35,95,50,97,25,99,30,101,100,103,190,104,200,105,180,106,180,108,190,110,205,111.5,215,113,200,115,90,117,80,119,65,121,115,122,125,124,115,126,125,127,130,128.5,100,130,186];
const vsgaOrange=[32,2,62,0,64,8,67,18,69,5,71,8,73,35,74,28,76,8,78,55,80,90,81,100,83,60,85,5,87,50,90,75,92,60,94,70,96,55,98,50,100,70,102,70,104,100,106,85,108,90,110,85,113,80,115,95,118,95,120,70,122,60,124,55,125,50,127,75,129,90,130,100];
const vsgaGreen=[32,1,45,3,50,0,76,3,78,35,80,55,81,58,83,40,85,8,87,50,89,50,91,45,93,60,95,70,97,65,99,45,100,30,101,18,103,35,105,35,107,45,110,65,112,75,114,70,116,75,118,135,120,115,122,155,123,160,125,115,127,145,128,120,130,85];
const vsgaRed=[32,0,76,3,78,50,80,115,81,125,83,100,85,5,87,25,90,25,92,30,94,55,96,65,98,75,100,85,101,90,103,170,105,180,107,205,108,185,110,140,111,120,112,135,114,100,116,95,118,90,120,120,121,180,123,260,124,270,125,265,126,270,127,350,128,400,129,420,130,462];
const vsgaPurple=[32,0,76,3,78,50,80,115,81,128,83,90,85,5,87,20,91,15,94,45,96,65,98,70,100,45,102,50,104,75,106,65,108,85,110,85,113,80,115,35,117,70,118,60,120,85,122,100,124,80,125,75,127,60,128,50,130,90];
const vsgaBrown=[32,0,76,3,78,15,80,30,82,38,84,25,85,0,87,5,90,15,93,12,96,20,98,40,100,40,103,20,105,12,107,15,109,40,112,45,115,55,118,55,120,40,122,25,125,30,127,35,130,30];

const vtngBlue=[150,5,160,8,170,8,180,12,185,5,190,10,193,0,195,0,196,40,197,110,198,170,199,200,200,210,201,195,202,150,203,80,204,25,205,0,206,10,208,17,211,30,213,32,215,25,217,12,220,10,225,8,232,7,238,4,243,1,250,8];
const vtngOrange=[150,5,160,5,170,10,180,5,183,20,186,20,188,10,190,12,193,0,195,0,196,60,197,170,198,240,199,275,200,282,201,255,202,190,203,140,204,130,205,170,206,250,207,300,208,312,209,290,210,220,211,150,212,90,213,55,215,55,217,60,219,50,221,30,224,22,230,18,235,15,240,10,243,35,245,45,247,35,250,15];
const vtngGreen=[150,5,154,8,156,18,158,35,160,35,163,20,165,15,170,12,173,18,178,10,182,5,186,8,191,15,193,0,195,0,196,50,197,170,198,250,199,280,200,289,201,260,202,200,203,165,204,155,205,200,206,280,207,330,208,341,209,310,210,240,211,160,212,95,213,75,215,80,217,82,219,72,221,45,224,30,228,22,232,25,238,20,242,12,245,8,248,18,250,27];
const vtngRed=[150,5,155,12,158,15,160,10,165,5,172,10,178,12,183,5,188,8,192,8,193,0,195,0,196,80,197,200,198,320,199,360,200,370,201,330,202,270,203,210,204,180,205,230,206,330,207,380,208,387,209,350,210,270,211,170,212,110,213,85,215,95,217,118,218,118,220,95,222,55,224,35,228,22,233,22,238,28,242,15,246,8,250,8];
const vtngPurple=[150,3,160,3,170,7,180,8,185,2,188,8,192,12,193,0,195,0,196,70,197,190,198,280,199,325,200,333,201,300,202,240,203,190,204,175,205,220,206,320,207,385,208,392,209,355,210,270,211,170,212,100,213,80,215,95,217,100,219,85,221,55,224,30,228,20,233,20,238,25,242,12,246,5,248,0,250,12];
const vtngBrown=[150,3,160,3,170,8,180,5,182,20,184,40,186,70,187,85,188,85,190,50,191,42,192,30,193,3,195,0,196,50,197,170,198,240,199,270,200,279,201,250,202,190,203,130,204,115,205,130,206,200,207,255,208,262,209,245,210,190,211,130,212,85,213,55,215,55,217,55,219,50,221,40,224,22,230,18,235,15,240,8,245,5,250,8];

// ---- chromatogram panel table: one row per precursor --------------------
const colLeft = [62.7, 673, 1283.3], colRight = [607.5, 1217.5, 1828];
const rowTop = [521.3, 713.3, 905, 1096.3], rowBottom = [671.7, 863.3, 1055, 1246.7];
const xics = [
 {col:0,row:0,title:"AALMESQGQQQEER : 802.8703",xlim:[51.4,152.9],ylim:[-30,536.7],xt:[60,80,100,120,140],yt:[0,100,200,300,400,500],rt:101.9,s:[aalmBlue,aalmOrange,aalmGreen,aalmRed,aalmPurple,aalmBrown]},
 {col:1,row:0,title:"AELLDNEKPAAVVAPITTGYTVK : 800.7722",xlim:[162.7,264.4],ylim:[-20,345],xt:[180,200,220,240,260],yt:[0,100,200,300],rt:213.5,s:[aellBlue,aellOrange,aellGreen,aellRed,aellPurple,aellBrown]},
 {col:2,row:0,title:"DLYEDELVPLFEK : 805.4034",xlim:[253.7,338.4],ylim:[-17,291],xt:[260,270,280,290,300,310,320,330],yt:[0,100,200],rt:304.3,s:[dlyeBlue,dlyeOrange,dlyeGreen,dlyeRed,dlyePurple,dlyeBrown]},
 {col:0,row:1,title:"FGIQAQMVTTDFQK : 807.4032",xlim:[163.7,264.1],ylim:[-270,5000],xt:[180,200,220,240,260],yt:[0,1000,2000,3000,4000],rt:213.9,s:[fgiqBlue,fgiqOrange,fgiqGreen,fgiqRed,fgiqPurple,fgiqBrown]},
 {col:1,row:1,title:"ILPEIIPILEEGLR : 802.9847",xlim:[265.6,338.2],ylim:[-23,397],xt:[270,280,290,300,310,320,330],yt:[0,100,200,300],rt:316.2,s:[ilpeBlue,ilpeOrange,ilpeGreen,ilpeRed,ilpePurple,ilpeBrown]},
 {col:2,row:1,title:"NAINTEMYHEIMR : 811.3767",xlim:[132.2,232.8],ylim:[-16,302],xt:[140,160,180,200,220],yt:[0,100,200,300],rt:182.3,s:[nainBlue,nainOrange,nainGreen,nainRed,nainPurple,nainBrown]},
 {col:0,row:2,title:"NVTELNEPLSNEER : 822.3972",xlim:[91.3,192.8],ylim:[-310,5630],xt:[100,120,140,160,180],yt:[0,1000,2000,3000,4000,5000],rt:142,s:[nvteBlue,nvteOrange,nvteGreen,nvteRed,nvtePurple,nvteBrown]},
 {col:1,row:2,title:"SDQQLDCALDLMR : 803.8636",xlim:[249.8,338.3],ylim:[-19,325],xt:[250,260,270,280,290,300,310,320,330],yt:[0,100,200,300],rt:300.1,s:[sdqqBlue,sdqqOrange,sdqqGreen,sdqqRed,sdqqPurple,sdqqBrown]},
 {col:2,row:2,title:"SETAPAETATPAPVEK : 820.9043",xlim:[72.5,173.7],ylim:[-22,407],xt:[80,100,120,140,160],yt:[0,100,200,300,400],rt:123.2,s:[setaBlue,setaOrange,setaGreen,setaRed,setaPurple,setaBrown]},
 {col:0,row:3,title:"VALVYGQMNEPPGAR : 801.4089",xlim:[111.5,212.9],ylim:[-430,7950],xt:[120,140,160,180,200],yt:[0,2000,4000,6000],rt:162.1,s:[valvBlue,valvOrange,valvGreen,valvRed,valvPurple,valvBrown]},
 {col:1,row:3,title:"VSGAQEMVSSAK : 605.2926",xlim:[30.8,131],ylim:[-29,490],xt:[40,60,80,100,120],yt:[0,100,200,300,400],rt:81,s:[vsgaBlue,vsgaOrange,vsgaGreen,vsgaRed,vsgaPurple,vsgaBrown]},
 {col:2,row:3,title:"VTNGAFTGEISPGMIK : 811.4164",xlim:[149,250.7],ylim:[-25,417],xt:[160,180,200,220,240],yt:[0,100,200,300,400],rt:199.7,s:[vtngBlue,vtngOrange,vtngGreen,vtngRed,vtngPurple,vtngBrown]}
];

// ---- helpers ------------------------------------------------------------
const svg = d3.select("#fig");
const toPairs = flat => d3.range(0, flat.length, 2).map(i => [flat[i], flat[i + 1]]);

function addText(x, y, str, size, opts = {}) {
  const t = svg.append("text").attr("x", x).attr("y", y).attr("font-size", size)
    .attr("text-anchor", opts.anchor || "middle").text(str);
  if (opts.rotate) t.attr("transform", `rotate(-90 ${x} ${y})`);
  if (opts.weight) t.attr("font-weight", opts.weight);
  if (opts.fill) t.style("fill", opts.fill);
  return t;
}

function drawAxes(x, y, xt, yt, o) {
  const bottom = y.range()[0], left = x.range()[0];
  const ax = d3.axisBottom(x).tickValues(xt).tickSizeOuter(0).tickSize(o.tick).tickPadding(o.pad)
    .tickFormat(o.xfmt || d3.format("d"));
  const ay = d3.axisLeft(y).tickValues(yt).tickSizeOuter(0).tickSize(o.tick).tickPadding(o.pad)
    .tickFormat(o.yfmt === null ? "" : (o.yfmt || d3.format("d")));
  for (const [axis, tr] of [[ax, `translate(0,${bottom})`], [ay, `translate(${left},0)`]]) {
    const g = svg.append("g").attr("transform", tr).call(axis);
    g.selectAll("text").attr("font-size", o.font).attr("font-family", null).style("fill", "#000");
    g.selectAll("line").attr("stroke", "#000").attr("stroke-width", o.lw);
    g.select(".domain").attr("stroke", "#000").attr("stroke-width", o.spine || o.lw);
  }
}

function frame(x, y, lw) {
  svg.append("rect").attr("x", x.range()[0]).attr("y", y.range()[1])
    .attr("width", x.range()[1] - x.range()[0]).attr("height", y.range()[0] - y.range()[1])
    .attr("fill", "none").attr("stroke", "#000").attr("stroke-width", lw);
}

function statBox(x0, x1, lines, anchorRight) {
  svg.append("rect").attr("x", x0).attr("y", 79.3).attr("width", x1 - x0).attr("height", 37.4).attr("rx", 3)
    .attr("fill", "#fff").attr("fill-opacity", 0.8).attr("stroke", "#ccc").attr("stroke-width", 1.3);
  lines.forEach((s, i) => addText(anchorRight ? x1 - 4.5 : x0 + 4, 94 + i * 16, s, 14.5,
    { anchor: anchorRight ? "end" : "start" }));
}

function histogram(left, right, xlim, ylim, xt, yt, fmt, name, bins, counts) {
  const x = d3.scaleLinear().domain(xlim).range([left, right]);
  const y = d3.scaleLinear().domain(ylim).range([379.3, 260.7]);
  svg.append("rect").attr("x", left).attr("y", 260.7).attr("width", right - left).attr("height", 118.6).attr("fill", "#fff");
  const area = d3.area().x((d, i) => x(bins[i])).y0(y(0)).y1(d => y(d)).curve(d3.curveStepAfter);
  svg.append("path").datum(counts).attr("d", area).attr("fill", palette[0]).attr("fill-opacity", 0.72);
  drawAxes(x, y, xt, yt, { tick: 5, pad: 5, font: 11.4, lw: 1.1, xfmt: fmt });
  frame(x, y, 1.3);
  addText((left + right) / 2, 257.7, name, 12.9);
}

// ---- figure heading -----------------------------------------------------
addText(917.4, 26.5, runName, 25.8, { weight: "bold", fill: "#ff0000" });

// ---- ion mobility panel -------------------------------------------------
{
  const x = d3.scaleLinear().domain([0.6705, 1.609]).range([62.5, 569.8]);
  const y = d3.scaleLinear().domain([0.668, 1.639]).range([405.7, 76]);
  svg.append("path").datum(imCoreX)
    .attr("d", d3.area().x(d => x(d)).y0((d, i) => y(imCoreLow[i])).y1((d, i) => y(imCoreHigh[i])))
    .attr("fill", palette[0]);
  svg.append("g").selectAll("circle").data(toPairs(imCloud)).join("circle")
    .attr("cx", d => x(d[0])).attr("cy", d => y(d[1])).attr("r", 3.1)
    .attr("fill", palette[0]).attr("fill-opacity", 0.8);
  svg.append("line").attr("x1", x(imFit[0])).attr("x2", x(imFit[1]))
    .attr("y1", y(0.9856 * imFit[0] + 0.015)).attr("y2", y(0.9856 * imFit[1] + 0.015))
    .attr("stroke", palette[0]).attr("stroke-width", 3.8);
  drawAxes(x, y, [0.8, 1.0, 1.2, 1.4, 1.6], [0.8, 1.0, 1.2, 1.4, 1.6],
    { tick: 5.5, pad: 5.5, font: 16.1, lw: 1.1, xfmt: d3.format(".1f"), yfmt: d3.format(".1f") });
  frame(x, y, 1.3);
  addText(316, 67.7, "ion mobility calibration", 19.3);
  addText(316, 451, "theoretical Ion Mobility", 16.1);
  addText(17, 241, "experimental Ion Mobility", 16.1, { rotate: true });
  statBox(69.6, 259, ["R = 0.983", "y = 0.9856 × x + 0.0150"]);
  histogram(358.6, 559.9, [-0.347, 0.442], [0, 952.6], [-0.2, 0, 0.2, 0.4], [0, 200, 400, 600, 800],
    d3.format(".1f"), "ΔIM", imDelta, imCount);
}

// ---- m/z panel ----------------------------------------------------------
{
  const x = d3.scaleLinear().domain([295, 1542]).range([691.6, 1198.5]);
  const y = d3.scaleLinear().domain([293.7, 1545]).range([405.7, 76]);
  const fit = v => 1.0 * v + 0.0005;
  svg.append("g").selectAll("line").data(mzDenseRuns).join("line")
    .attr("x1", d => x(d[0])).attr("x2", d => x(d[1]))
    .attr("y1", d => y(fit(d[0]))).attr("y2", d => y(fit(d[1])))
    .attr("stroke", palette[0]).attr("stroke-width", 6.4).attr("stroke-linecap", "round");
  svg.append("g").selectAll("circle").data(mzTail).join("circle")
    .attr("cx", d => x(d)).attr("cy", d => y(fit(d))).attr("r", 3.1)
    .attr("fill", palette[0]).attr("fill-opacity", 0.8);
  svg.append("line").attr("x1", x(mzFit[0])).attr("x2", x(mzFit[1]))
    .attr("y1", y(fit(mzFit[0]))).attr("y2", y(fit(mzFit[1])))
    .attr("stroke", palette[0]).attr("stroke-width", 3.8);
  const t = [400, 600, 800, 1000, 1200, 1400];
  drawAxes(x, y, t, t, { tick: 5.5, pad: 5.5, font: 16.1, lw: 1.1 });
  frame(x, y, 1.3);
  addText(945, 67.7, "m/z calibration", 19.3);
  addText(945, 451, "theoretical m/z", 16.1);
  addText(629, 241, "experimental m/z", 16.1, { rotate: true });
  statBox(698.3, 888, ["R = 1.000", "y = 1.0000 × x + 0.0005"]);
  histogram(987.3, 1188.2, [-0.0245, 0.0234], [0, 855], [-0.02, -0.01, 0, 0.01, 0.02], [0, 200, 400, 600, 800],
    d3.format(".2f"), "Δm/z", mzDelta, mzCount);
}

// ---- iRT panel ----------------------------------------------------------
{
  const x = d3.scaleLinear().domain([56.3, 331.2]).range([1320.4, 1827.4]);
  const y = d3.scaleLinear().domain([-236.1, -57.1]).range([405.7, 76]);
  svg.append("g").selectAll("circle").data(irtX).join("circle")
    .attr("cx", d => x(d)).attr("cy", (d, i) => y(irtY[i])).attr("r", 3.1)
    .attr("fill", palette[0]).attr("fill-opacity", 0.8);
  const fit = v => -0.6425 * v - 21.1753;
  svg.append("line").attr("x1", x(irtFit[0])).attr("x2", x(irtFit[1]))
    .attr("y1", y(fit(irtFit[0]))).attr("y2", y(fit(irtFit[1])))
    .attr("stroke", palette[0]).attr("stroke-width", 3.8);
  drawAxes(x, y, [100, 150, 200, 250, 300], [-60, -80, -100, -120, -140, -160, -180, -200, -220],
    { tick: 5.5, pad: 5.5, font: 16.1, lw: 1.1 });
  frame(x, y, 1.3);
  addText(1574, 67.7, "iRT Transformation", 19.3);
  addText(1574, 451, "original RT [s]", 16.1);
  addText(1256, 241, "ΔRT [s]", 16.1, { rotate: true });
  statBox(1611, 1820.8, ["R = -1.000", "y = -0.6425 × x + -21.1753"], true);
}

// ---- chromatogram grid --------------------------------------------------
for (const p of xics) {
  const l = colLeft[p.col], r = colRight[p.col], t = rowTop[p.row], b = rowBottom[p.row];
  const x = d3.scaleLinear().domain(p.xlim).range([l, r]);
  const y = d3.scaleLinear().domain(p.ylim).range([b, t]);
  const line = d3.line().x(d => x(d[0])).y(d => y(d[1])).curve(d3.curveMonotoneX);
  p.s.forEach((flat, i) => {
    svg.append("path").datum(toPairs(flat)).attr("d", line).attr("fill", "none")
      .attr("stroke", palette[i]).attr("stroke-width", 1.8);
  });
  svg.append("line").attr("x1", x(p.rt)).attr("x2", x(p.rt)).attr("y1", t).attr("y2", b)
    .attr("stroke", palette[0]).attr("stroke-opacity", 0.85).attr("stroke-width", 1.8).attr("stroke-dasharray", "6 3");
  drawAxes(x, y, p.xt, p.yt, { tick: 3, pad: 2, font: 11.6, lw: 1.2, spine: 1.5, yfmt: p.col === 0 ? d3.format("d") : null });
  addText((l + r) / 2, [518, 710, 902, 1094][p.row], p.title, 14.5);
  if (p.col === 0) addText(p.row === 0 ? 27 : 20, (t + b) / 2, "Intensity", 12.9, { rotate: true });
  if (p.row === 3) addText((l + r) / 2, 1278, "Retention Time [s]", 12.9);
}
</script>
</body>
</html>
